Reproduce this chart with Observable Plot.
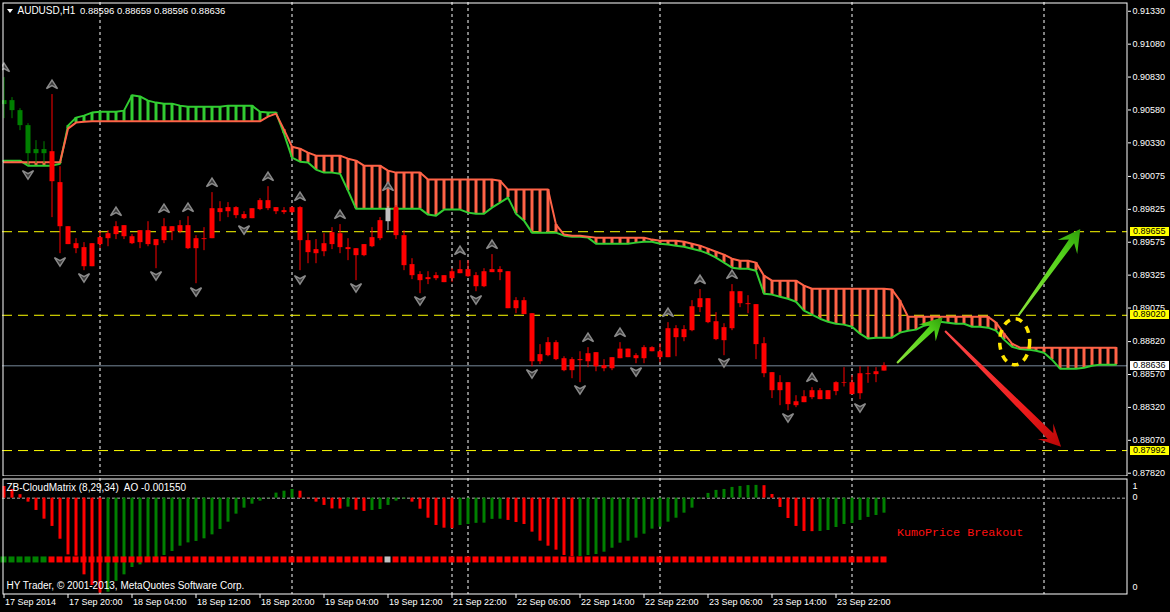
<!DOCTYPE html>
<html><head><meta charset="utf-8">
<script src="https://cdn.jsdelivr.net/npm/d3@7"></script>
<script src="https://cdn.jsdelivr.net/npm/@observablehq/plot@0.6"></script>
<style>
html,body{margin:0;padding:0;background:#000;}
body{width:1170px;height:612px;overflow:hidden;position:relative;font-family:"Liberation Sans",Arial,sans-serif;}
#main,#sub{position:absolute;left:0;}
#main{top:0}#sub{top:476px}
.t{position:absolute;color:#fff;font-size:10px;line-height:12px;white-space:pre;}
.box{position:absolute;left:1130px;width:39px;height:9px;font-size:9px;line-height:9px;color:#000;padding-left:3px;box-sizing:border-box;}
.tri{position:absolute;left:7px;top:9px;width:0;height:0;border-left:3px solid transparent;border-right:3px solid transparent;border-top:4px solid #fff;}
</style></head><body>
<div id="main"></div><div id="sub"></div>
<div class="tri"></div>
<div class="t" style="left:17.5px;top:4.5px">AUDUSD,H1</div>
<div class="t" id="ohlc" style="left:80px;top:4.5px;font-size:9.5px"></div>
<div class="t" id="indname" style="left:6.5px;top:482px"></div>
<div class="t" style="left:6.5px;top:580px">HY Trader, © 2001-2013, MetaQuotes Software Corp.</div>
<div class="t" style="left:897px;top:526px;font-family:'Liberation Mono',monospace;font-size:11.7px;line-height:14px;color:#ff1010">KumoPrice Breakout</div>
<script>
// ---------- DATA (H1 bars, bar index 0 = 17 Sep 2014 12:00) ----------
const lastQuote = {open:0.88596, high:0.88659, low:0.88596, close:0.88636};
const opens = [0.90651,0.90651,0.90575,0.90461,0.90279,0.90279,0.90263,0.90028,0.89693,0.89564,
0.89534,0.89564,0.89610,0.89640,0.89693,0.89701,0.89617,0.89663,0.89663,0.89595,
0.89693,0.89693,0.89701,0.89701,0.89602,0.89602,0.89830,0.89830,0.89838,0.89838,
0.89785,0.89830,0.89891,0.89891,0.89838,0.89815,0.89838,0.89838,0.89587,0.89519,
0.89564,0.89648,0.89640,0.89534,0.89526,0.89557,0.89610,0.89739,0.89830,0.89838,
0.89625,0.89405,0.89329,0.89306,0.89321,0.89321,0.89351,0.89367,0.89367,0.89321,
0.89351,0.89367,0.89367,0.89351,0.89131,0.89131,0.89032,0.88721,0.88812,0.88812,
0.88690,0.88683,0.88683,0.88728,0.88736,0.88637,0.88698,0.88763,0.88763,0.88713,
0.88774,0.88774,0.88743,0.88918,0.88918,0.88911,0.89085,0.89146,0.89146,0.88971,
0.88926,0.89199,0.89199,0.89108,0.89101,0.88804,0.88584,0.88508,0.88508,0.88363,
0.88401,0.88447,0.88447,0.88447,0.88508,0.88508,0.88508,0.88576,0.88576,0.88591,0.88596];
const highs = [0.90826,0.90674,0.90590,0.90476,0.90347,0.90339,0.90697,0.90149,0.89693,0.89602,
0.89572,0.89564,0.89655,0.89663,0.89731,0.89701,0.89633,0.89663,0.89731,0.89595,
0.89754,0.89693,0.89739,0.89769,0.89625,0.89686,0.89952,0.89883,0.89876,0.89845,
0.89807,0.89830,0.89906,0.89997,0.89838,0.89838,0.89845,0.89845,0.89640,0.89595,
0.89640,0.89686,0.89709,0.89602,0.89526,0.89557,0.89686,0.89762,0.89845,0.89853,
0.89663,0.89450,0.89351,0.89351,0.89344,0.89321,0.89374,0.89435,0.89435,0.89344,
0.89374,0.89481,0.89389,0.89351,0.89154,0.89154,0.89032,0.88797,0.88850,0.88827,
0.88705,0.88698,0.88743,0.88774,0.88736,0.88683,0.88698,0.88812,0.88763,0.88728,
0.88789,0.88781,0.88804,0.88964,0.88941,0.88941,0.89131,0.89215,0.89146,0.89040,
0.88956,0.89253,0.89199,0.89169,0.89101,0.88850,0.88584,0.88561,0.88508,0.88409,
0.88447,0.88470,0.88463,0.88447,0.88515,0.88622,0.88561,0.88629,0.88629,0.88622,0.88659];
const lows = [0.90514,0.90514,0.90423,0.90157,0.90172,0.90172,0.89762,0.89488,0.89557,0.89488,
0.89359,0.89389,0.89526,0.89541,0.89595,0.89595,0.89557,0.89526,0.89541,0.89374,
0.89564,0.89587,0.89640,0.89519,0.89260,0.89511,0.89602,0.89731,0.89762,0.89754,
0.89747,0.89754,0.89815,0.89815,0.89785,0.89785,0.89792,0.89359,0.89412,0.89412,
0.89465,0.89519,0.89488,0.89435,0.89283,0.89465,0.89534,0.89587,0.89663,0.89595,
0.89359,0.89291,0.89184,0.89253,0.89283,0.89268,0.89268,0.89336,0.89306,0.89199,
0.89230,0.89344,0.89283,0.89070,0.89032,0.89025,0.88629,0.88645,0.88705,0.88675,
0.88591,0.88538,0.88508,0.88622,0.88591,0.88591,0.88599,0.88690,0.88698,0.88652,
0.88652,0.88743,0.88660,0.88698,0.88705,0.88819,0.88895,0.89040,0.88956,0.88827,
0.88713,0.88903,0.89078,0.89032,0.88683,0.88546,0.88387,0.88333,0.88295,0.88318,
0.88356,0.88379,0.88379,0.88379,0.88409,0.88475,0.88417,0.88379,0.88503,0.88508,0.88596];
const closes = [0.90621,0.90575,0.90461,0.90248,0.90248,0.90248,0.90035,0.89693,0.89557,0.89526,
0.89389,0.89389,0.89557,0.89602,0.89633,0.89617,0.89564,0.89572,0.89557,0.89549,
0.89587,0.89655,0.89655,0.89526,0.89526,0.89595,0.89602,0.89800,0.89807,0.89777,
0.89754,0.89754,0.89823,0.89830,0.89807,0.89800,0.89800,0.89587,0.89496,0.89488,
0.89503,0.89557,0.89534,0.89519,0.89473,0.89473,0.89541,0.89602,0.89731,0.89625,
0.89397,0.89321,0.89283,0.89291,0.89298,0.89268,0.89298,0.89336,0.89313,0.89237,
0.89237,0.89344,0.89344,0.89070,0.89070,0.89025,0.88667,0.88667,0.88713,0.88683,
0.88599,0.88599,0.88675,0.88667,0.88629,0.88614,0.88614,0.88690,0.88698,0.88690,
0.88690,0.88743,0.88698,0.88698,0.88850,0.88850,0.88903,0.89078,0.88964,0.88835,
0.88827,0.88918,0.89108,0.89101,0.88797,0.88576,0.88447,0.88447,0.88341,0.88333,
0.88356,0.88394,0.88379,0.88379,0.88440,0.88503,0.88417,0.88424,0.88569,0.88569,0.88636];
// ZB-CloudMatrix signal per bar: g = green, r = red, s = grey (runs of [code, count])
const signalRuns = [["g",6],["r",42],["s",1],["r",62]];
// Ichimoku Senkou spans (shifted 26 bars forward)
const spanA = [0.90182,0.90182,0.90182,0.90182,0.90182,0.90182,0.90182,0.90182,0.90438,0.90484,
0.90491,0.90494,0.90494,0.90494,0.90494,0.90494,0.90494,0.90494,0.90494,0.90494,
0.90494,0.90494,0.90494,0.90494,0.90494,0.90494,0.90494,0.90494,0.90494,0.90494,
0.90494,0.90494,0.90494,0.90529,0.90552,0.90431,0.90301,0.90286,0.90256,0.90233,
0.90233,0.90233,0.90233,0.90210,0.90195,0.90157,0.90157,0.90157,0.90119,0.90104,
0.90104,0.90104,0.90104,0.90051,0.90051,0.90051,0.90051,0.90051,0.90051,0.90051,
0.90051,0.90051,0.90043,0.89975,0.89975,0.89975,0.89975,0.89975,0.89975,0.89709,
0.89633,0.89625,0.89625,0.89617,0.89610,0.89610,0.89610,0.89610,0.89610,0.89610,
0.89610,0.89595,0.89587,0.89587,0.89587,0.89579,0.89564,0.89549,0.89526,0.89503,
0.89481,0.89450,0.89435,0.89435,0.89420,0.89321,0.89283,0.89283,0.89283,0.89283,
0.89245,0.89222,0.89222,0.89222,0.89222,0.89222,0.89222,0.89222,0.89222,0.89222,
0.89222,0.89215,0.89131,0.89009,0.89009,0.89009,0.89009,0.89009,0.89009,0.89009,
0.89009,0.89009,0.89009,0.89009,0.88964,0.88880,0.88804,0.88774,0.88774,0.88774,
0.88774,0.88774,0.88774,0.88774,0.88774,0.88774,0.88774,0.88774,0.88774,0.88774];
const spanB = [0.90195,0.90195,0.90195,0.90157,0.90157,0.90157,0.90157,0.90172,0.90461,0.90522,
0.90537,0.90560,0.90567,0.90567,0.90567,0.90575,0.90691,0.90683,0.90651,0.90636,
0.90628,0.90628,0.90613,0.90605,0.90605,0.90605,0.90605,0.90605,0.90613,0.90613,
0.90613,0.90613,0.90567,0.90560,0.90560,0.90400,0.90218,0.90187,0.90180,0.90127,
0.90104,0.90104,0.90096,0.89967,0.89830,0.89830,0.89830,0.89830,0.89830,0.89830,
0.89830,0.89830,0.89830,0.89785,0.89777,0.89823,0.89823,0.89823,0.89800,0.89792,
0.89792,0.89838,0.89876,0.89914,0.89792,0.89739,0.89648,0.89648,0.89648,0.89648,
0.89625,0.89617,0.89617,0.89610,0.89564,0.89564,0.89564,0.89564,0.89564,0.89572,
0.89579,0.89579,0.89564,0.89557,0.89549,0.89541,0.89526,0.89511,0.89488,0.89458,
0.89420,0.89382,0.89374,0.89374,0.89359,0.89184,0.89177,0.89161,0.89146,0.89123,
0.89055,0.89025,0.88994,0.88971,0.88956,0.88949,0.88933,0.88880,0.88843,0.88850,
0.88850,0.88850,0.88888,0.88903,0.88911,0.88941,0.88956,0.88971,0.88964,0.88956,
0.88956,0.88933,0.88933,0.88926,0.88903,0.88835,0.88781,0.88763,0.88759,0.88751,
0.88736,0.88683,0.88614,0.88614,0.88614,0.88622,0.88637,0.88645,0.88645,0.88645];
// Fractals [bar, price of arrow]
const upFractals = [[0,0.90902],[6,0.90773],[14,0.89807],[20,0.89830],[23,0.89838],[26,0.90028],
[33,0.90073],[37,0.89921],[42,0.89785],[48,0.89997],[57,0.89511],[61,0.89557],[73,0.88850],
[77,0.88888],[83,0.89040],[87,0.89290],[91,0.89329],[101,0.88546]];
const downFractals = [[3,0.90089],[7,0.89427],[10,0.89306],[19,0.89321],[24,0.89199],[30,0.89670],
[37,0.89291],[44,0.89230],[52,0.89131],[59,0.89139],[66,0.88576],[72,0.88455],[79,0.88591],
[90,0.88660],[98,0.88242],[107,0.88318]];
// Awesome Oscillator histogram
const ao = [0.00121,0.00090,0.00036,-0.00041,-0.00127,-0.00217,-0.00292,-0.00424,-0.00586,-0.00599,
-0.00792,-0.00902,-0.00981,-0.00971,-0.00860,-0.00792,-0.00716,-0.00689,-0.00627,-0.00613,
-0.00592,-0.00551,-0.00496,-0.00462,-0.00447,-0.00420,-0.00379,-0.00323,-0.00248,-0.00165,
-0.00103,-0.00062,-0.00031,-0.00005,0.00052,0.00072,0.00090,0.00072,-0.00005,-0.00041,
-0.00075,-0.00111,-0.00112,-0.00093,-0.00124,-0.00137,-0.00127,-0.00117,-0.00075,-0.00031,
-0.00010,-0.00041,-0.00114,-0.00207,-0.00282,-0.00310,-0.00315,-0.00282,-0.00272,-0.00260,
-0.00258,-0.00219,-0.00217,-0.00230,-0.00251,-0.00272,-0.00351,-0.00444,-0.00496,-0.00537,
-0.00592,-0.00604,-0.00602,-0.00592,-0.00582,-0.00558,-0.00517,-0.00465,-0.00444,-0.00413,
-0.00372,-0.00320,-0.00300,-0.00248,-0.00207,-0.00155,-0.00103,-0.00010,0.00049,0.00080,
0.00090,0.00111,0.00121,0.00130,0.00132,0.00129,0.00038,-0.00096,-0.00210,-0.00292,
-0.00344,-0.00346,-0.00344,-0.00334,-0.00303,-0.00272,-0.00261,-0.00230,-0.00199,-0.00179,-0.00155];
const aoLast = -0.001550;
const signalLevel = -0.00633;
// horizontal levels
const yellowLevels = [0.89655, 0.89020, 0.87992];
const bidLevel = 0.88636;
const priceTicks = [0.91330,0.91080,0.90830,0.90580,0.90330,0.90075,0.89825,0.89575,0.89325,0.89075,0.88820,0.88570,0.88320,0.88070,0.87820];
const subTicks = [[0.00128,"1"],[0.0001,"0"],[-0.00919,"0"]];
const daySeparators = [12, 36, 56, 58, 82, 106, 130];
const timeLabels = [[0,"17 Sep 2014"],[8,"17 Sep 20:00"],[16,"18 Sep 04:00"],[24,"18 Sep 12:00"],
[32,"18 Sep 20:00"],[40,"19 Sep 04:00"],[48,"19 Sep 12:00"],[56,"21 Sep 22:00"],[64,"22 Sep 06:00"],
[72,"22 Sep 14:00"],[80,"22 Sep 22:00"],[88,"23 Sep 06:00"],[96,"23 Sep 14:00"],[104,"23 Sep 22:00"]];
// drawn annotations [bar, price]
const arrowsDrawn = [
  {from:[111.7,0.88653], to:[117.4,0.89001], col:"green"},
  {from:[126.9,0.89018], to:[134.6,0.89671], col:"green"},
  {from:[117.7,0.88897], to:[132.2,0.88017], col:"red"}];
const breakoutCircle = [126.4, 0.88815];

// ---------- BUILD ----------
const signal = signalRuns.flatMap(([c, n]) => Array(n).fill(c));
const sigColor = {g:"#008000", r:"#ff0000", s:"#c0c0c0"};
const candles = opens.map((o, i) => ({i, o, h: highs[i], l: lows[i], c: closes[i], col: sigColor[signal[i]]}));
const cloud = spanA.map((a, i) => ({i, a, b: spanB[i]}));
const aoData = ao.map((v, i) => ({i, v, col: i > 0 && v > ao[i-1] ? "#008000" : "#ff0000"}));
const sigData = signal.map((s, i) => ({i, col: sigColor[s]}));
const fmt5 = v => v.toFixed(5);

document.getElementById("ohlc").textContent =
  [lastQuote.open, lastQuote.high, lastQuote.low, lastQuote.close].map(fmt5).join(" ");
document.getElementById("indname").textContent = "ZB-CloudMatrix (8,29,34)  AO " + aoLast.toFixed(6);

const SALMON = "#ff6347", LIME = "#32cd32";
const upSym = {draw(ctx){ctx.moveTo(0,-4.5);ctx.lineTo(5.5,4);ctx.lineTo(0,1);ctx.lineTo(-5.5,4);ctx.closePath();}};
const dnSym = {draw(ctx){ctx.moveTo(0,4.5);ctx.lineTo(5.5,-4);ctx.lineTo(0,-1);ctx.lineTo(-5.5,-4);ctx.closePath();}};
const styleBase = {background:"black", color:"white", fontFamily:"Liberation Sans, Arial, sans-serif", fontSize:"9px"};
const xOpt = {domain:[0,140.5], range:[3.5,1127.5], axis:null};

const mainPlot = Plot.plot({
  width:1170, height:477, marginLeft:2, marginRight:43, marginTop:2, marginBottom:1,
  style: styleBase,
  x: xOpt,
  y: {domain:[0.87795,0.91389], range:[476,3], axis:"right", ticks:priceTicks, tickFormat:fmt5, tickSize:3, tickPadding:2, label:null},
  color: {type:"identity"},
  marks: [
    Plot.ruleX(daySeparators, {stroke:"white", strokeDasharray:"3,3"}),
    Plot.ruleY(yellowLevels, {stroke:"#ffff00", strokeDasharray:"10,6"}),
    Plot.ruleY([bidLevel], {stroke:"#778899"}),
    Plot.ruleX(cloud, {x:"i", y1:"a", y2:"b", stroke: d => d.a >= d.b ? SALMON : LIME, strokeWidth:3, clip:true}),
    Plot.line(cloud, {x:"i", y:"b", stroke:LIME, strokeWidth:2, clip:true}),
    Plot.line(cloud, {x:"i", y:"a", stroke:SALMON, strokeWidth:2, clip:true}),
    Plot.ruleX(candles, {x:"i", y1:"l", y2:"h", stroke:"col", strokeWidth:1, clip:true}),
    Plot.ruleX(candles, {x:"i", y1:"o", y2:"c", stroke:"col", strokeWidth:5, clip:true}),
    Plot.dot(upFractals, {x:d=>d[0], y:d=>d[1], symbol:upSym, r:6, fill:"#3a3a3a", stroke:"#8a8a8a", strokeWidth:1.5, clip:true}),
    Plot.dot(downFractals, {x:d=>d[0], y:d=>d[1], symbol:dnSym, r:6, fill:"#3a3a3a", stroke:"#8a8a8a", strokeWidth:1.5, clip:true}),
    Plot.frame({stroke:"white", inset:0.5})
  ]
});
document.getElementById("main").appendChild(mainPlot);

function scaleFn(plot, name){
  const s = plot.scale(name);
  return s.apply ? (v => s.apply(v)) : d3.scaleLinear(s.domain, s.range);
}
const X = scaleFn(mainPlot, "x"), Y = scaleFn(mainPlot, "y");
const svg = d3.select(mainPlot);
const defs = svg.append("defs");
const grads = {green:["#8be23a","#52d21b","#2f9e0a"], red:["#ff4a4a","#ec1a1a","#b80606"]};
arrowsDrawn.forEach((a, k) => {
  const x0 = X(a.from[0]), y0 = Y(a.from[1]), x1 = X(a.to[0]), y1 = Y(a.to[1]);
  const dx = x1-x0, dy = y1-y0, len = Math.hypot(dx, dy), ux = dx/len, uy = dy/len, nx = -uy, ny = ux;
  const L = 22, H = a.col === "red" ? 11 : 12, neck = 15, w0 = 1, w1 = a.col === "red" ? 4 : 3.2;
  const P = (d, w) => [x0+ux*d+nx*w, y0+uy*d+ny*w];
  const pts = [P(0,w0), P(len-neck,w1), P(len-L,H), P(len,0), P(len-L,-H), P(len-neck,-w1), P(0,-w0)];
  const g = defs.append("linearGradient").attr("id","ag"+k).attr("gradientUnits","userSpaceOnUse")
    .attr("x1",x0).attr("y1",y0).attr("x2",x1).attr("y2",y1);
  const c = grads[a.col];
  g.append("stop").attr("offset","0").attr("stop-color",c[0]);
  g.append("stop").attr("offset","0.7").attr("stop-color",c[1]);
  g.append("stop").attr("offset","1").attr("stop-color",c[2]);
  svg.append("path").attr("d","M"+pts.map(p=>p.join(",")).join("L")+"Z").attr("fill","url(#ag"+k+")");
});
svg.append("ellipse").attr("cx",X(breakoutCircle[0])).attr("cy",Y(breakoutCircle[1]))
  .attr("rx",15).attr("ry",23).attr("fill","none").attr("stroke","#ffe600")
  .attr("stroke-width",3.5).attr("stroke-dasharray","7,6");

// price labels on the axis
yellowLevels.concat([bidLevel]).forEach(v => {
  const d = document.createElement("div");
  d.className = "box";
  d.style.top = (Y(v) - 4.5) + "px";
  d.style.background = v === bidLevel ? "#ffffff" : "#ffff00";
  d.textContent = fmt5(v);
  document.body.appendChild(d);
});

// ---------- indicator window ----------
const subPlot = Plot.plot({
  width:1170, height:136, marginLeft:2, marginRight:43, marginTop:2, marginBottom:18,
  style: styleBase,
  x: xOpt,
  y: {domain:[-0.00995,0.00200], range:[118,2.3], axis:"right", ticks:subTicks.map(d=>d[0]),
      tickFormat: v => (subTicks.find(t => t[0] === v) || [0,""])[1], tickSize:0, tickPadding:5, label:null},
  color: {type:"identity"},
  marks: [
    Plot.ruleX(daySeparators, {stroke:"white", strokeDasharray:"3,3"}),
    Plot.ruleY([0], {stroke:"#b4b4b4", strokeDasharray:"3,2"}),
    Plot.ruleX(aoData, {x:"i", y1:0, y2:"v", stroke:"col", strokeWidth:3}),
    Plot.dot(sigData, {x:"i", y:() => signalLevel, symbol:"square", r:3.385, fill:"col", dx:-0.5}),
    Plot.frame({stroke:"white", inset:0.5}),
    Plot.ruleX(timeLabels, {x:d=>d[0], y1:-0.00995, y2:-0.01036, stroke:"white"}),
    Plot.text(timeLabels, {x:d=>d[0], frameAnchor:"bottom", dy:10, dx:1, text:d=>d[1], textAnchor:"start", fill:"white"})
  ]
});
document.getElementById("sub").appendChild(subPlot);
</script></body></html>
